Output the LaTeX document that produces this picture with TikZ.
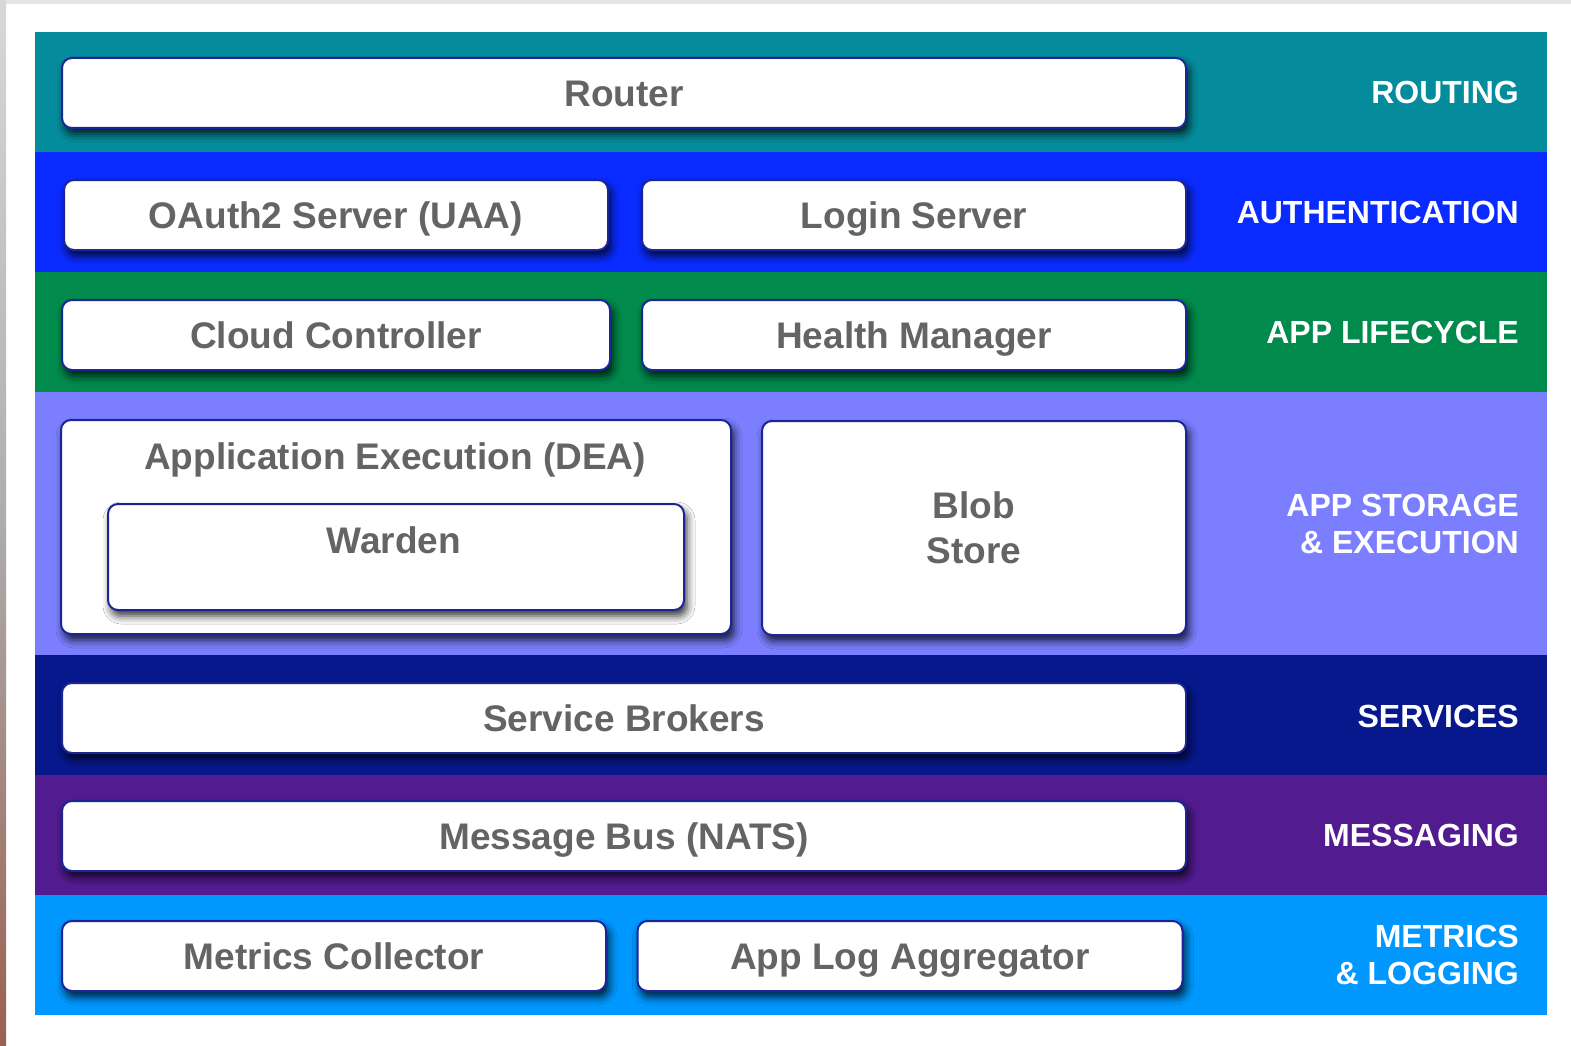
\documentclass[tikz,border=0pt]{standalone}
\usepackage{fontspec}
\setmainfont{Liberation Sans}
\usetikzlibrary{shadows.blur}
\definecolor{routing}{HTML}{058C9C}
\definecolor{auth}{HTML}{0A2BFF}
\definecolor{life}{HTML}{008A4C}
\definecolor{storage}{HTML}{7B7FFF}
\definecolor{services}{HTML}{06188C}
\definecolor{messaging}{HTML}{521B8F}
\definecolor{metrics}{HTML}{0098FF}
\definecolor{boxline}{HTML}{1B2696}
\definecolor{txtgrey}{HTML}{646464}
\definecolor{edgegrey}{HTML}{D8D8D8}
\definecolor{edgebrown}{HTML}{9A6050}
\begin{document}
\begin{tikzpicture}[x=1pt,y=-1pt,
  box/.style={draw=boxline, line width=2pt, fill=white, rounded corners=10pt,
    inner sep=0pt, font=\bfseries\fontsize{37}{45}\selectfont, text=txtgrey,
    text height=26.5pt, text depth=0pt,
    blur shadow={shadow xshift=3pt, shadow yshift=-6pt, shadow blur radius=8pt, shadow opacity=80}},
  boxtext/.style={inner sep=0pt, font=\bfseries\fontsize{37}{45}\selectfont, text=txtgrey,
    text height=26.5pt, text depth=0pt},
  lbl/.style={anchor=east, align=right, font=\bfseries\fontsize{32}{37}\selectfont,
    text=white, inner sep=0pt},
]
\useasboundingbox (0,0) rectangle (1571,1046);
\fill[white] (0,0) rectangle (1571,1046);
\fill[edgegrey!70] (0,0) rectangle (1571,4);
\shade[top color=edgegrey, bottom color=edgebrown, middle color=edgegrey!80!black] (0,0) rectangle (6,1046);

% bands
\fill[routing]   (35,32)  rectangle (1547,152);
\fill[auth]      (35,152) rectangle (1547,272);
\fill[life]      (35,272) rectangle (1547,392);
\fill[storage]   (35,392) rectangle (1547,655);
\fill[services]  (35,655) rectangle (1547,775);
\fill[messaging] (35,775) rectangle (1547,895);
\fill[metrics]   (35,895) rectangle (1547,1015);

% boxes
\node[box, minimum width=1124pt, minimum height=70pt] (router) at (624,93) {Router};
\node[box, minimum width=544pt, minimum height=70pt] (oauth) at (336,215) {OAuth2 Server (UAA)};
\node[box, minimum width=544pt, minimum height=70pt] (login) at (914,215) {Login Server};
\node[box, minimum width=548pt, minimum height=70pt] (cc) at (336,335) {Cloud Controller};
\node[box, minimum width=544pt, minimum height=70pt] (hm) at (914,335) {Health Manager};
\node[box, minimum width=670pt, minimum height=214pt] (dea) at (396,527) {};
\node[boxtext] (deatitle) at (395,456) {Application Execution (DEA)};
\node[box, minimum width=576pt, minimum height=106pt] (warden) at (396,557) {};
\node[boxtext] (wardentitle) at (394,540) {Warden};
\node[box, minimum width=424pt, minimum height=214pt, align=center,
      text height=, text depth=] (blob) at (974,528) {Blob\\Store};
\node[box, minimum width=1124pt, minimum height=70pt] (sb) at (624,718) {Service Brokers};
\node[box, minimum width=1124pt, minimum height=70pt] (nats) at (624,836) {Message Bus (NATS)};
\node[box, minimum width=544pt, minimum height=70pt] (mc) at (334,956) {Metrics Collector};
\node[box, minimum width=545pt, minimum height=70pt] (ala) at (910,956) {App Log Aggregator};

% labels
\node[lbl] (lrouting) at (1519,92) {ROUTING};
\node[lbl] (lauth) at (1519,212) {AUTHENTICATION};
\node[lbl] (llife) at (1519,332) {APP LIFECYCLE};
\node[lbl] (lstorage) at (1519,523.5) {APP STORAGE\\\& EXECUTION};
\node[lbl] (lservices) at (1519,716) {SERVICES};
\node[lbl] (lmessaging) at (1519,835) {MESSAGING};
\node[lbl] (lmetrics) at (1519,954.5) {METRICS\\\& LOGGING};
\end{tikzpicture}
\end{document}
